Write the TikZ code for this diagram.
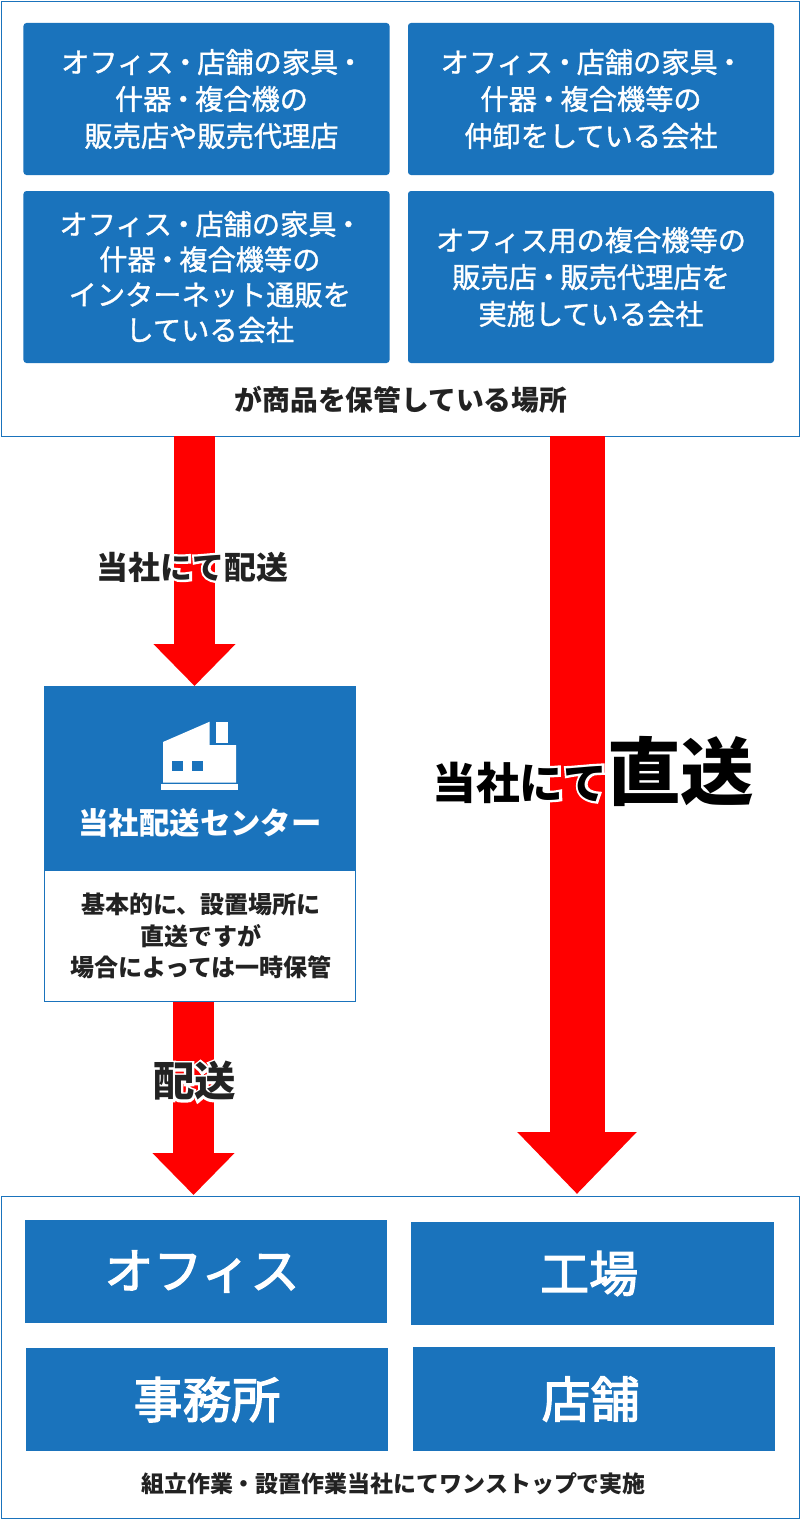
\documentclass[tikz,border=0pt]{standalone}
\usepackage{fontspec}
\setmainfont{Noto Sans CJK JP}
\newfontfamily\midfont{Noto Sans CJK JP}[FakeBold=1.2]
\newfontfamily\heavyfont{Noto Sans CJK JP}[FakeBold=2.6]
\usetikzlibrary{arrows.meta}
\definecolor{kblue}{HTML}{1A73BC}
\definecolor{kink}{HTML}{222222}
\newcommand{\fs}[2]{\fontsize{#1pt}{#2pt}\selectfont}
\newcommand{\nd}{\kern-2pt ・\kern-2pt}
\newcommand{\halo}[1]{\rlap{\textcolor{white}{\special{pdf:code 2 Tr 4 w}#1\special{pdf:code 0 Tr 1 w}}}#1}

\begin{document}
\begin{tikzpicture}[
    x=0.3mm,
    y=-0.3mm,
    frame/.style={
        rectangle,
        draw=kblue,
        line width=0.25mm,
        fill=white,
        inner sep=0pt
    },
    shopbox/.style={
        rectangle,
        fill=kblue,
        rounded corners=0.9mm,
        text=white,
        align=center,
        inner sep=0pt,
        minimum width=109.8mm,
        font=\midfont\fs{24.1}{31.5}
    },
    placebox/.style={
        rectangle,
        fill=kblue,
        text=white,
        align=center,
        inner sep=0pt,
        minimum width=108.8mm,
        minimum height=31mm,
        font=\heavyfont\fs{41.8}{50}
    },
    caption/.style={
        text=kink,
        align=center,
        inner sep=0pt,
        font=\fs{23.7}{30}\bfseries
    },
    flowlabel/.style={
        text=kink,
        inner sep=0pt,
        font=\bfseries
    },
    flow/.style={
        draw=red,
        line width=12.3mm,
        -{Triangle[length=12.6mm,width=23.9mm,fill=red]}
    },
    bigflow/.style={
        draw=red,
        line width=16.5mm,
        -{Triangle[length=18.6mm,width=34.7mm,fill=red]}
    }
]
\useasboundingbox (0,0) rectangle (800,1525);

% Nodes
\node [frame, minimum width=239.4mm, minimum height=130.5mm] (store) at (400,218.5) {};
\node [shopbox, minimum height=45.6mm] (seller) at (206.5,99) {\hspace*{3mm}オフィス\nd 店舗の家具\nd\\\hspace*{3mm}什器\nd 複合機の\\\hspace*{3mm}販売店や販売代理店};
\node [shopbox, minimum height=45.6mm] (whole) at (591,99) {オフィス\nd 店舗の家具\nd\\什器\nd 複合機等の\\仲卸をしている会社};
\node [shopbox, minimum height=51.6mm, font=\midfont\fs{24.1}{30.1}] (web) at (206.5,277) {\hspace*{2mm}オフィス\nd 店舗の家具\nd\\\hspace*{2mm}什器\nd 複合機等の\\\hspace*{2mm}インターネット通販を\\\hspace*{2mm}している会社};
\node [shopbox, minimum height=51.6mm] (copier) at (591,277) {オフィス用の複合機等の\\販売店\nd 販売代理店を\\実施している会社};
\node [caption] (storecap) at (401,400) {が商品を保管している場所};

\node [frame, minimum width=239.4mm, minimum height=96.6mm] (site) at (400,1357) {};
\node [placebox] (office) at (206,1271.5) {\hspace*{-2.4mm}オフィス};
\node [placebox] (factory) at (592.5,1273.5) {\hspace*{-2mm}工場};
\node [placebox] (branch) at (207,1399.5) {事務所};
\node [placebox] (shop) at (594,1399) {\hspace*{-2mm}店舗};
\node [caption, font=\fs{19.6}{26}\bfseries] (sitecap) at (393.5,1484) {組立作業・設置作業当社にてワンストップで実施};

\node [frame, minimum width=93.4mm, minimum height=39.4mm, align=center, text=kink, font=\fs{20.5}{27.2}\bfseries] (hubnote) at (200,936) {\hspace*{.6mm}基本的に、設置場所に\\\hspace*{.6mm}直送ですが\\\hspace*{.6mm}場合によっては一時保管};
\node [rectangle, fill=kblue, minimum width=93.6mm, minimum height=55.5mm, inner sep=0pt] (hub) at (200,778.5) {};
\node [text=white, inner sep=0pt, font=\fs{25.9}{30}\bfseries] (hubname) at (200,823) {当社配送センター};

% Icon
\fill [white] (163,742) -- (209.7,721.7) -- (209.7,745) -- (236,745) -- (236,782.7) -- (163,782.7) -- cycle;
\fill [white] (216,722.3) rectangle (228,742.7);
\fill [white] (161.3,784) rectangle (237.7,789.7);
\fill [kblue] (172,760.7) rectangle (182.7,771);
\fill [kblue] (192,760.7) rectangle (202.7,771);

% Arrows
\coordinate (hubtip) at (194.5,686);
\coordinate (sitetip) at (193.5,1195);
\coordinate (directtip) at (577,1194);
\draw [flow] (store.south -| hubtip) -- (hubtip);
\draw [flow] (hubnote.south -| sitetip) -- (sitetip);
\draw [bigflow] (store.south -| directtip) -- (directtip);

% Labels
\node [flowlabel, font=\fs{27.2}{32}\bfseries] (deliver) at (192.5,567) {\halo{当社にて配送}};
\node [flowlabel, font=\fs{35.4}{42}\bfseries] (relay) at (194.5,1081) {\halo{配送}};
\node [flowlabel, text=black, anchor=base] (direct) at (593.5,799) {\halo{\fs{37.3}{42}\bfseries 当社にて\fs{62.8}{70}\bfseries 直送}};

\end{tikzpicture}
\end{document}
